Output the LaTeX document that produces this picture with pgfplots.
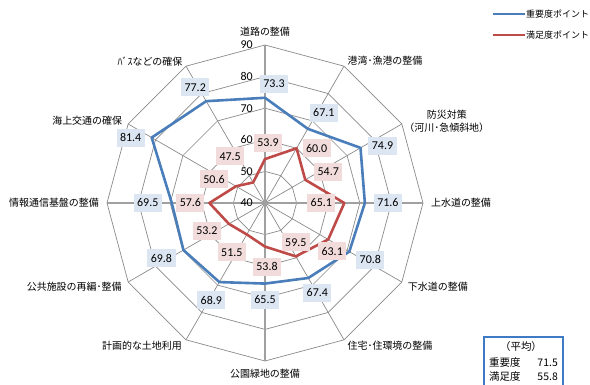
\documentclass[border=0pt]{standalone}
\usepackage{fontspec}
\setmainfont{Carlito}
\newfontfamily\jp{Noto Sans CJK JP}
\usepackage{pgfplots}
\usepackage{pgfplotstable}
\usepgfplotslibrary{polar}
\pgfplotsset{compat=1.18}

\definecolor{impblue}{HTML}{4A7EBB}
\definecolor{satred}{HTML}{BE4B48}
\definecolor{impfill}{HTML}{DCE6F2}
\definecolor{satfill}{HTML}{F2DCDB}
\definecolor{gridgray}{HTML}{8A8A8A}
\definecolor{crossgray}{HTML}{A0A0A0}
\definecolor{boxblue}{HTML}{3F7AC4}

% angle (deg), importance, satisfaction, label offsets in bp
\pgfplotstableread[row sep=\\]{
ang imp sat idx idy sdx sdy\\
90  73.3 53.9   9  14    3  16\\
60  67.1 60.0  16  16   20   0\\
30  74.9 54.7  22   2   23   8\\
0   71.6 65.1  23   0  -23   0\\
330 70.8 63.1  21  -8    4 -12\\
300 67.4 59.5   9 -15    0  14\\
270 65.5 53.8   0 -16    2 -20\\
240 68.9 51.5  -8 -18  -15 -18\\
210 69.8 53.2 -22  -8  -22  -7\\
180 69.5 57.6 -24   0  -19   0\\
150 81.4 50.6 -21   0  -22   7\\
120 77.2 47.5 -11  14  -23  26\\
}\data

% category names, centre offset from the outer vertex (bp)
\pgfplotstableread[col sep=comma]{
ang,lab,dx,dy
90,道路の整備,0,13
60,港湾･漁港の整備,41,5
30,{防災対策\\（河川･急傾斜地）},45,2.5
0,上水道の整備,38,0
330,下水道の整備,36,-5
300,住宅･住環境の整備,46,-6
270,公園緑地の整備,0,-13
240,計画的な土地利用,-44,-6
210,公共施設の再編･整備,-54,-5
180,情報通信基盤の整備,-53,0
150,海上交通の確保,-41,3
120,ﾊﾞｽなどの確保,-36,5
}\cats

\pgfplotstableread[row sep=\\]{
r\\ 40\\ 50\\ 60\\ 70\\ 80\\ 90\\
}\rings

\begin{document}
\begin{tikzpicture}
\useasboundingbox (0,0) rectangle (590bp,385bp);
\clip (0,0) rectangle (590bp,385bp);
\begin{polaraxis}[
    at={(265bp,182bp)}, anchor=center,
    scale only axis, width=316bp, height=316bp,
    clip=false,
    ymin=0, ymax=50,
    y filter/.expression={y-40},
    ytick=\empty,
    xtick={90,60,30,0,330,300,270,240,210,180,150,120},
    xticklabels={},
    xmajorgrids=true, ymajorgrids=false,
    major x grid style={gridgray, line width=0.7bp},
    axis line style={draw=none},
    xtick style={draw=none},
]
% polygon rings
\pgfplotsinvokeforeach{50,60,70,80,90}{
  \addplot[gridgray, line width=0.7bp, mark=none]
    coordinates {(0,#1)(30,#1)(60,#1)(90,#1)(120,#1)(150,#1)(180,#1)(210,#1)(240,#1)(270,#1)(300,#1)(330,#1)(360,#1)};
}
% thick cross lines
\addplot[crossgray, line width=1.8bp, mark=none] coordinates {(90,90)(270,90)};
\addplot[crossgray, line width=1.8bp, mark=none] coordinates {(0,90)(180,90)};

% radial scale
\addplot[draw=none, mark=none, point meta=\thisrow{r},
    nodes near coords={\pgfmathprintnumber[assume math mode=true]{\pgfplotspointmeta}},
    every node near coord/.append style={anchor=east, xshift=-12bp, inner sep=0pt, text=black, font=\fontsize{12}{14}\selectfont}]
    table[x expr=90, y=r] {\rings};

% category names
\addplot[draw=none, mark=none, point meta=explicit symbolic,
    visualization depends on={\thisrow{dx} \as \cdx},
    visualization depends on={\thisrow{dy} \as \cdy},
    nodes near coords,
    every node near coord/.append style={anchor=center, xshift=\cdx bp, yshift=\cdy bp, inner sep=0pt,
      align=center, text=black, font=\jp\fontsize{10}{13}\selectfont}]
    table[x=ang, y expr=90, meta=lab] {\cats};

% series
\addplot[satred, line width=2.6bp, line join=round, mark=none] table[x=ang, y=sat] {\data} -- cycle;
\addplot[impblue, line width=2.6bp, line join=round, mark=none] table[x=ang, y=imp] {\data} -- cycle;

% data labels
\addplot[draw=none, mark=none, point meta=\thisrow{sat},
    visualization depends on={\thisrow{sdx} \as \ldx},
    visualization depends on={\thisrow{sdy} \as \ldy},
    nodes near coords={\pgfmathprintnumber[fixed, fixed zerofill, precision=1, assume math mode=true]{\pgfplotspointmeta}},
    every node near coord/.append style={anchor=center, xshift=\ldx bp, yshift=\ldy bp, fill=satfill, text=black,
      inner xsep=3.5bp, inner ysep=0pt, minimum height=18bp, font=\fontsize{12}{14}\selectfont}]
    table[x=ang, y=sat] {\data};
\addplot[draw=none, mark=none, point meta=\thisrow{imp},
    visualization depends on={\thisrow{idx} \as \ldx},
    visualization depends on={\thisrow{idy} \as \ldy},
    nodes near coords={\pgfmathprintnumber[fixed, fixed zerofill, precision=1, assume math mode=true]{\pgfplotspointmeta}},
    every node near coord/.append style={anchor=center, xshift=\ldx bp, yshift=\ldy bp, fill=impfill, text=black,
      inner xsep=3.5bp, inner ysep=0pt, minimum height=18bp, font=\fontsize{12}{14}\selectfont}]
    table[x=ang, y=imp] {\data};
\end{polaraxis}

% legend
\draw[impblue, line width=2.6bp] (493bp,371bp) -- (525bp,371bp);
\node[anchor=west, inner sep=0pt, font=\jp\fontsize{9}{11}\selectfont] at (526bp,371bp) {重要度ポイント};
\draw[satred, line width=2.6bp] (493bp,350bp) -- (525bp,350bp);
\node[anchor=west, inner sep=0pt, font=\jp\fontsize{9}{11}\selectfont] at (526bp,350bp) {満足度ポイント};

% average box
\draw[boxblue, line width=2.2bp, fill=white] (484bp,-10bp) rectangle (563bp,48bp);
\node[font=\jp\fontsize{10.5}{12}\selectfont, inner sep=0pt] at (521bp,38bp) {（平均）};
\node[anchor=west, font=\jp\fontsize{10.5}{12}\selectfont, inner sep=0pt] at (489bp,22bp) {重要度};
\node[anchor=east, font=\jp\fontsize{10.5}{12}\selectfont, inner sep=0pt] at (558bp,22bp) {71.5};
\node[anchor=west, font=\jp\fontsize{10.5}{12}\selectfont, inner sep=0pt] at (489bp,8bp) {満足度};
\node[anchor=east, font=\jp\fontsize{10.5}{12}\selectfont, inner sep=0pt] at (558bp,8bp) {55.8};
\end{tikzpicture}
\end{document}
